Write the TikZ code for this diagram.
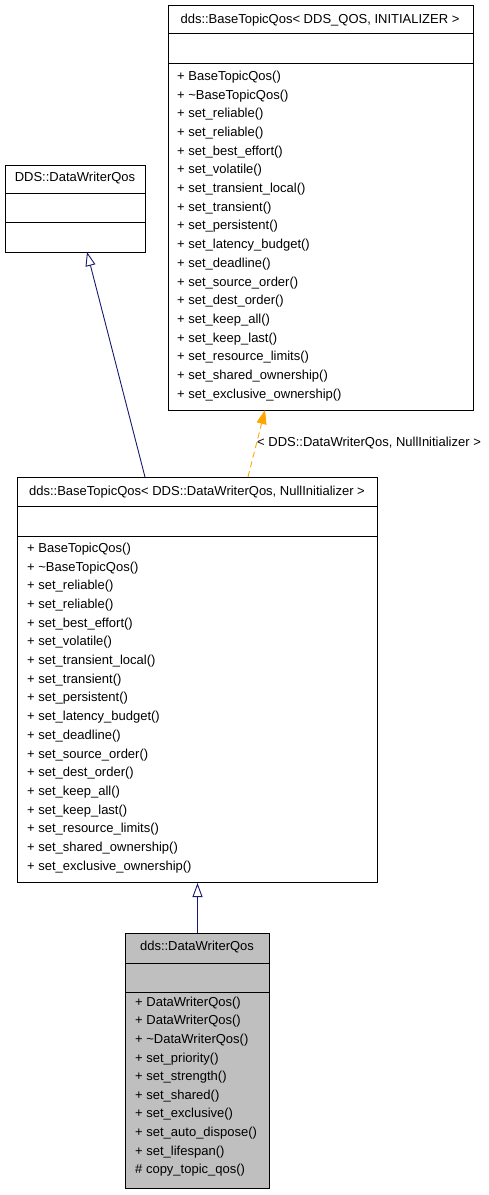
\documentclass[tikz,border=0pt]{standalone}
\usepackage{fontspec}
\setmainfont{Liberation Sans}
\usetikzlibrary{arrows.meta}
\definecolor{edgeblue}{HTML}{191970}
\definecolor{edgeorange}{HTML}{FFA500}
\definecolor{boxgray}{HTML}{BFBFBF}
\newcommand{\us}{\_}
\begin{document}
\begin{tikzpicture}[x=1pt,y=-1pt,
  classbox/.style={draw, line width=1pt, inner sep=0pt, anchor=north west},
  classtitle/.style={font=\fontsize{13}{15}\selectfont, inner sep=0pt},
  member/.style={font=\fontsize{13}{15}\selectfont, anchor=west, inner sep=0pt},
  divider/.style={line width=1pt},
  inherit/.style={draw=edgeblue, line width=0.9pt, -{Triangle[open, length=14pt, width=10pt]}},
  tmplarrow/.style={draw=edgeorange, line width=0.9pt, dash pattern=on 6pt off 4pt, -{Triangle[length=14pt, width=10pt]}}]
\useasboundingbox (0,0) rectangle (488,1195);

% template class
\node[classbox, minimum width=305pt, minimum height=405pt] (tpl) at (168,5) {};
\node[classtitle] (tpltitle) at (320,20) {dds::BaseTopicQos< DDS\us QOS, INITIALIZER >};
\draw[divider] (168,33) -- (473,33);
\draw[divider] (168,63) -- (473,63);
\foreach \m [count=\i from 0] in {BaseTopicQos(), \textasciitilde BaseTopicQos(), set\us reliable(), set\us reliable(),
  set\us best\us effort(), set\us volatile(), set\us transient\us local(), set\us transient(), set\us persistent(),
  set\us latency\us budget(), set\us deadline(), set\us source\us order(), set\us dest\us order(), set\us keep\us all(),
  set\us keep\us last(), set\us resource\us limits(), set\us shared\us ownership(), set\us exclusive\us ownership()}
  \node[member] at (177,77+18.7*\i) {+ \m};

% base class
\node[classbox, minimum width=140pt, minimum height=87pt] (dds) at (5,165) {};
\node[classtitle] (ddstitle) at (75,178) {DDS::DataWriterQos};
\draw[divider] (5,193) -- (145,193);
\draw[divider] (5,222) -- (145,222);

% instantiated template
\node[classbox, minimum width=360pt, minimum height=405pt] (mid) at (17,477) {};
\node[classtitle] (midtitle) at (197,492) {dds::BaseTopicQos< DDS::DataWriterQos, NullInitializer >};
\draw[divider] (17,506) -- (377,506);
\draw[divider] (17,536) -- (377,536);
\foreach \m [count=\i from 0] in {BaseTopicQos(), \textasciitilde BaseTopicQos(), set\us reliable(), set\us reliable(),
  set\us best\us effort(), set\us volatile(), set\us transient\us local(), set\us transient(), set\us persistent(),
  set\us latency\us budget(), set\us deadline(), set\us source\us order(), set\us dest\us order(), set\us keep\us all(),
  set\us keep\us last(), set\us resource\us limits(), set\us shared\us ownership(), set\us exclusive\us ownership()}
  \node[member] at (27,549+18.7*\i) {+ \m};

% derived class
\node[classbox, fill=boxgray, minimum width=144pt, minimum height=255pt] (dwq) at (125,933) {};
\node[classtitle] (dwqtitle) at (197,947) {dds::DataWriterQos};
\draw[divider] (125,963) -- (269,963);
\draw[divider] (125,992) -- (269,992);
\foreach \m [count=\i from 0] in {+ DataWriterQos(), + DataWriterQos(), + \textasciitilde DataWriterQos(),
  + set\us priority(), + set\us strength(), + set\us shared(), + set\us exclusive(),
  + set\us auto\us dispose(), + set\us lifespan(), \# copy\us topic\us qos()}
  \node[member] at (135,1003+18.6*\i) {\m};

% connectors
\coordinate (midA) at (145,477);
\coordinate (ddsB) at (87,252);
\coordinate (midB) at (248,477);
\coordinate (tplB) at (265,410);
\draw[inherit] (midA) -- (ddsB);
\draw[tmplarrow] (midB) -- (tplB);
\node[member] (tpllabel) at (257,443) {< DDS::DataWriterQos, NullInitializer >};
\draw[inherit] (dwq.north) -- (mid.south -| dwq.north);
\end{tikzpicture}
\end{document}
